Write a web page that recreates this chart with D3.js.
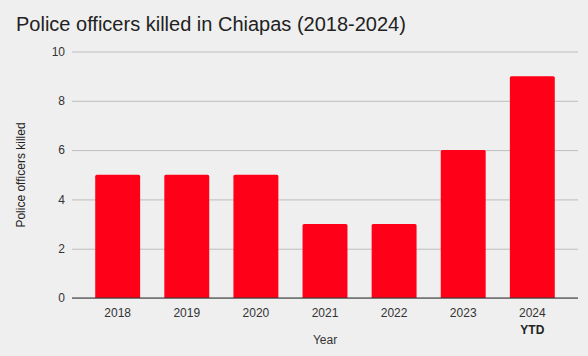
<!DOCTYPE html>
<html><head><meta charset="utf-8">
<script src="https://cdn.jsdelivr.net/npm/d3@7"></script>
<style>body{margin:0;background:#efefef;} svg{display:block;font-family:Arial,"Liberation Sans",sans-serif;}</style>
</head><body>
<svg id="c" width="588" height="356"></svg>
<script>
const years = ["2018","2019","2020","2021","2022","2023","2024"];
const subLabels = ["","","","","","","YTD"];
const killed = [5,5,5,3,3,6,9];
const yTicks = [0,2,4,6,8,10];
const title = "Police officers killed in Chiapas (2018-2024)";
const xTitle = "Year";
const yTitle = "Police officers killed";

(function(){
const svg = d3.select("#c");
svg.append("rect").attr("width",588).attr("height",356).attr("fill","#efefef");
const pL=72,pR=578,pT=51.5,pB=298;
const x = d3.scaleBand().domain(years).range([pL,pR]).paddingInner(0.35).paddingOuter(0.336);
const y = d3.scaleLinear().domain([0,10]).range([pB,pT]);

svg.append("text").attr("x",16).attr("y",31).attr("font-size",20).attr("fill","#222").text(title);

const ga = svg.append("g").attr("transform",`translate(${pL},0)`)
  .call(d3.axisLeft(y).tickValues(yTicks).tickSize(-(pR-pL)).tickPadding(7));
ga.select(".domain").remove();
ga.selectAll(".tick line").attr("stroke","#bdbdbd");
ga.selectAll(".tick text").attr("font-size",12).attr("fill","#333").attr("font-family","Arial,'Liberation Sans',sans-serif");

svg.append("g").selectAll("path").data(killed).join("path")
  .attr("fill","#ff0019")
  .attr("d",(d,i)=>{const x0=x(years[i]),w=x.bandwidth(),y0=y(d),r=1.5;
    return `M${x0},${pB}V${y0+r}Q${x0},${y0} ${x0+r},${y0}H${x0+w-r}Q${x0+w},${y0} ${x0+w},${y0+r}V${pB}Z`;});

svg.append("line").attr("x1",pL).attr("x2",pR).attr("y1",pB).attr("y2",pB).attr("stroke","#333").attr("stroke-width",1.2);

const gx = svg.append("g").attr("transform",`translate(0,${pB})`)
  .call(d3.axisBottom(x).tickSize(0).tickPadding(10));
gx.select(".domain").remove();
gx.selectAll(".tick text").attr("font-size",12).attr("fill","#333").attr("font-family","Arial,'Liberation Sans',sans-serif");
svg.append("g").selectAll("text").data(subLabels).join("text")
  .attr("x",(d,i)=>x(years[i])+x.bandwidth()/2).attr("y",334)
  .attr("text-anchor","middle").attr("font-size",12).attr("font-weight","bold").attr("fill","#222").text(d=>d);

svg.append("text").attr("x",325).attr("y",344).attr("text-anchor","middle").attr("font-size",12).attr("fill","#333").text(xTitle);
svg.append("text").attr("transform","translate(25,175) rotate(-90)").attr("text-anchor","middle").attr("font-size",12).attr("fill","#222").text(yTitle);
})();
</script>
</body></html>
